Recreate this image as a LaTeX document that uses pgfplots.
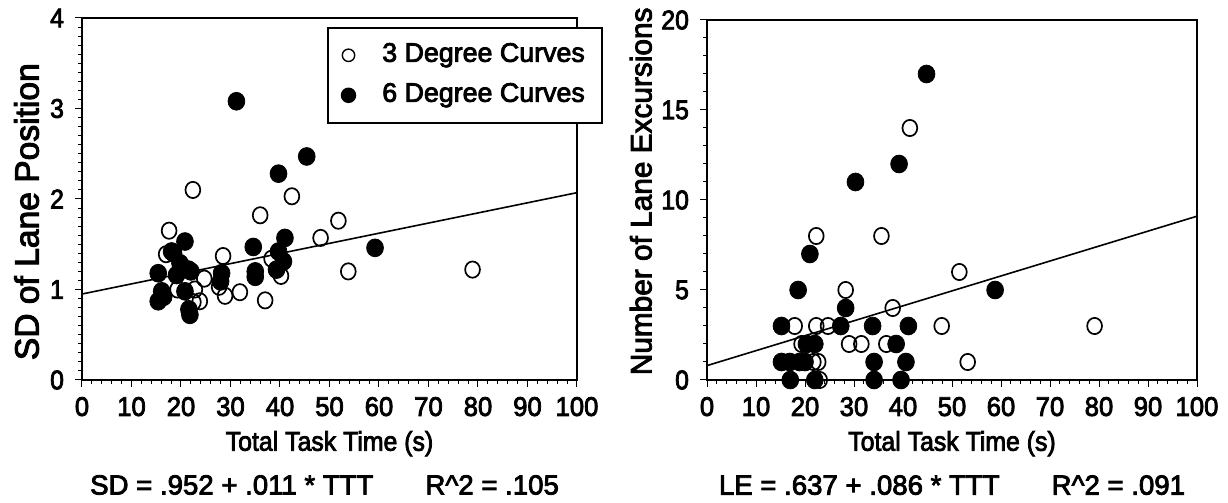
\documentclass[border=0pt]{standalone}
\usepackage{fontspec}
\setmainfont{Liberation Sans}[FakeBold=3]
\usepackage{graphicx}
\usepackage{pgfplots}
\pgfplotsset{compat=1.18}

\pgfplotstableread{
x y
22.4 2.10
42.4 2.03
36.0 1.82
51.8 1.76
48.2 1.57
17.6 1.65
17.0 1.39
28.5 1.37
38.3 1.34
24.7 1.12
53.8 1.20
78.9 1.22
31.9 0.97
28.9 0.93
27.7 1.03
37.0 0.88
40.2 1.15
22.8 1.00
19.3 1.00
23.8 0.87
22.5 0.86
}\sdthree

\pgfplotstableread{
x y
31.2 3.08
45.4 2.47
39.7 2.28
41.0 1.57
34.6 1.47
59.2 1.46
20.8 1.53
18.1 1.42
19.8 1.29
21.5 1.22
19.1 1.16
15.4 1.18
16.1 0.98
15.4 0.87
16.5 0.92
20.8 0.98
21.8 0.72
21.6 0.78
28.2 1.18
28.0 1.09
35.0 1.20
35.0 1.14
39.7 1.42
40.7 1.31
39.3 1.22
18.5 1.40
22.0 1.20
}\sdsix

\pgfplotstableread{
x y
41.4 14
22.3 8
35.6 8
51.5 6
28.3 5
37.9 4
17.9 3
22.3 3
24.7 3
47.9 3
79.1 3
19.3 2
29.0 2
31.5 2
36.6 2
21.7 1
22.7 1
53.2 1
23.0 0
}\lethree

\pgfplotstableread{
x y
44.8 17
39.2 12
30.3 11
21.0 7
18.6 5
58.8 5
28.3 4
15.2 3
27.3 3
33.8 3
41.1 3
20.3 2
22.0 2
38.6 2
15.2 1
16.9 1
18.9 1
20.0 1
34.1 1
40.6 1
17.0 0
22.0 0
34.1 0
39.6 0
}\lesix

\pgfplotsset{
  mystyle/.style={
    scale only axis,
    clip=false,
    xmin=0, xmax=100,
    xtick={0,10,...,100},
    minor x tick num=4,
    tick align=outside,
    xtick pos=bottom, ytick pos=left,
    major tick length=3.5pt, minor tick length=2pt,
    every tick/.style={black, line width=0.5pt},
    axis line style={line width=0.9pt},
    /pgf/number format/assume math mode=true,
    xticklabel={\scalebox{0.95}[1]{\pgfmathprintnumber{\tick}}},
    yticklabel={\scalebox{0.92}[1]{\pgfmathprintnumber{\tick}}},
    xticklabel style={font=\fontsize{13.5}{15}\selectfont, yshift=-1.5pt},
    yticklabel style={font=\fontsize{13.5}{15}\selectfont, xshift=-2pt},
    xlabel={\scalebox{0.92}[1]{Total Task Time (s)}},
    xlabel style={font=\fontsize{13.5}{15}\selectfont, at={(axis description cs:0.5,-0.1953)}, anchor=base},
  },
  openm/.style={only marks, mark=o, mark size=3.7pt, mark options={line width=0.85pt, fill=white, draw=black, yscale=1.1}},
  fillm/.style={only marks, mark=*, mark size=4.2pt, mark options={fill=black, draw=black, yscale=1.06}},
  mylegimg/.style={legend image code/.code={\path (0pt,0pt) (26.5pt,0pt); \draw[##1] plot coordinates {(10pt,0pt)};}},
}

\begin{document}
\begin{tikzpicture}
\path[use as bounding box] (-41pt,-61.5pt) rectangle (573pt,190pt);

\begin{axis}[mystyle,
  at={(0pt,0pt)}, anchor=south west,
  width=247.5pt, height=181pt,
  ymin=0, ymax=4, ytick={0,1,2,3,4}, minor y tick num=9,
  ylabel={SD of Lane Position},
  ylabel style={font=\fontsize{16.8}{18}\selectfont, at={(axis description cs:-0.112,0.465)}, anchor=center},
  legend style={at={(0.495,0.975)}, anchor=north west, draw=black, line width=0.75pt,
     font=\fontsize{13.4}{15}\selectfont, row sep=7.5pt, column sep=0pt,
     inner xsep=0pt, inner ysep=7.5pt,
     nodes={inner xsep=0pt, inner ysep=0pt, text height=9.5pt, text depth=3pt}},
  legend cell align=left,
]
\addplot[black, line width=0.8pt, forget plot] coordinates {(0,0.95) (100,2.07)};
\addplot[fillm, forget plot] table[x=x,y=y] {\sdsix};
\addplot[openm, forget plot] table[x=x,y=y] {\sdthree};
\addlegendimage{only marks, mark=o, mark size=3.1pt, mark options={line width=0.7pt, draw=black}, mylegimg}
\addlegendentry{3 Degree Curves\hspace*{8.5pt}}
\addlegendimage{only marks, mark=*, mark size=3.5pt, mark options={fill=black, draw=black}, mylegimg}
\addlegendentry{6 Degree Curves\hspace*{8.5pt}}
\node[font=\fontsize{13.8}{15}\selectfont] at (rel axis cs:0.49,-0.29)
  {SD = .952 + .011 * TTT\hspace{26pt}R\textasciicircum 2 = .105};
\end{axis}

\begin{axis}[mystyle,
  at={(312.5pt,0pt)}, anchor=south west,
  width=245pt, height=180pt,
  ymin=0, ymax=20, ytick={0,5,10,15,20}, minor y tick num=4,
  ylabel={Number of Lane Excursions},
  ylabel style={font=\fontsize{14.9}{16}\selectfont, at={(axis description cs:-0.135,0.524)}, anchor=center},
  xlabel style={at={(axis description cs:0.5,-0.1964)}},
]
\addplot[black, line width=0.8pt] coordinates {(0,0.8) (100,9.1)};
\addplot[fillm] table[x=x,y=y] {\lesix};
\addplot[openm] table[x=x,y=y] {\lethree};
\node[font=\fontsize{13.8}{15}\selectfont] at (rel axis cs:0.5,-0.292)
  {LE = .637 + .086 * TTT\hspace{26pt}R\textasciicircum 2 = .091};
\end{axis}
\end{tikzpicture}
\end{document}
